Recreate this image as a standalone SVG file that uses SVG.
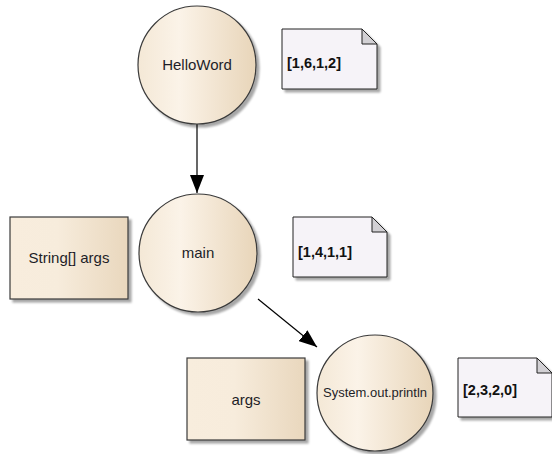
<svg xmlns="http://www.w3.org/2000/svg" width="552" height="454" viewBox="0 0 552 454">
<defs>
  <linearGradient id="gc" x1="0" y1="0" x2="1" y2="0">
    <stop offset="0" stop-color="#f4e8d6"/>
    <stop offset="0.35" stop-color="#fbf3e8"/>
    <stop offset="1" stop-color="#e8d5b9"/>
  </linearGradient>
  <linearGradient id="gr" x1="0" y1="0" x2="1" y2="0">
    <stop offset="0" stop-color="#f8eddd"/>
    <stop offset="0.4" stop-color="#f7ecdc"/>
    <stop offset="1" stop-color="#e9d7bd"/>
  </linearGradient>
  <filter id="sh" x="-10%" y="-10%" width="130%" height="130%">
    <feGaussianBlur in="SourceAlpha" stdDeviation="1.2"/>
    <feOffset dx="3" dy="3" result="o"/>
    <feComponentTransfer><feFuncA type="linear" slope="0.35"/></feComponentTransfer>
    <feMerge><feMergeNode/><feMergeNode in="SourceGraphic"/></feMerge>
  </filter>
  <marker id="arr" viewBox="0 0 18 14" refX="18" refY="7" markerWidth="18" markerHeight="14" markerUnits="userSpaceOnUse" orient="auto">
    <path d="M0,0 L18,7 L0,14 Z" fill="#000"/>
  </marker>
</defs>
<style>
  .c { fill: url(#gc); stroke: #3a3a3a; stroke-width: 1.2; filter: url(#sh); }
  .r { fill: url(#gr); stroke: #3a3a3a; stroke-width: 1.2; filter: url(#sh); }
  .n { fill: #f6f3f8; stroke: #222; stroke-width: 1; filter: url(#sh); }
  .fold { fill: #d2d0d4; stroke: #222; stroke-width: 1; }
  .t { font-family: "Liberation Sans", Arial, sans-serif; font-size: 15px; fill: #1e1e28; text-anchor: middle; }
  .nt { font-family: "Liberation Sans", Arial, sans-serif; font-size: 14.5px; font-weight: bold; fill: #111; }
  .e { stroke: #000; stroke-width: 1.2; fill: none; marker-end: url(#arr); }
</style>
<g id="connectors">
  <line class="e" x1="197" y1="124" x2="197" y2="193"/>
  <line class="e" x1="258" y1="299" x2="317" y2="347"/>
</g>
<g id="HelloWord">
  <circle class="c" cx="197" cy="65" r="59"/>
  <text class="t" x="197" y="70">HelloWord</text>
</g>
<g id="note1">
  <path class="n" d="M282,29 H362 L377,44 V89 H282 Z"/>
  <path class="fold" d="M362,29 V44 H377 Z"/>
  <text class="nt" x="287" y="68">[1,6,1,2]</text>
</g>
<g id="main">
  <circle class="c" cx="198" cy="253" r="59"/>
  <text class="t" x="198" y="258">main</text>
</g>
<g id="StringArgs">
  <rect class="r" x="10" y="217" width="118" height="82"/>
  <text class="t" x="69" y="263">String[] args</text>
</g>
<g id="note2">
  <path class="n" d="M293,217 H372 L387,232 V277 H293 Z"/>
  <path class="fold" d="M372,217 V232 H387 Z"/>
  <text class="nt" x="298" y="257">[1,4,1,1]</text>
</g>
<g id="args">
  <rect class="r" x="187" y="358" width="118" height="82"/>
  <text class="t" x="246" y="405">args</text>
</g>
<g id="SystemOutPrintln">
  <circle class="c" cx="375" cy="393" r="58"/>
  <text class="t" x="375" y="397" style="font-size:13px">System.out.println</text>
</g>
<g id="note3">
  <path class="n" d="M458,358 H537 L552,373 V417 H458 Z"/>
  <path class="fold" d="M537,358 V373 H552 Z"/>
  <text class="nt" x="463" y="395">[2,3,2,0]</text>
</g>
</svg>
